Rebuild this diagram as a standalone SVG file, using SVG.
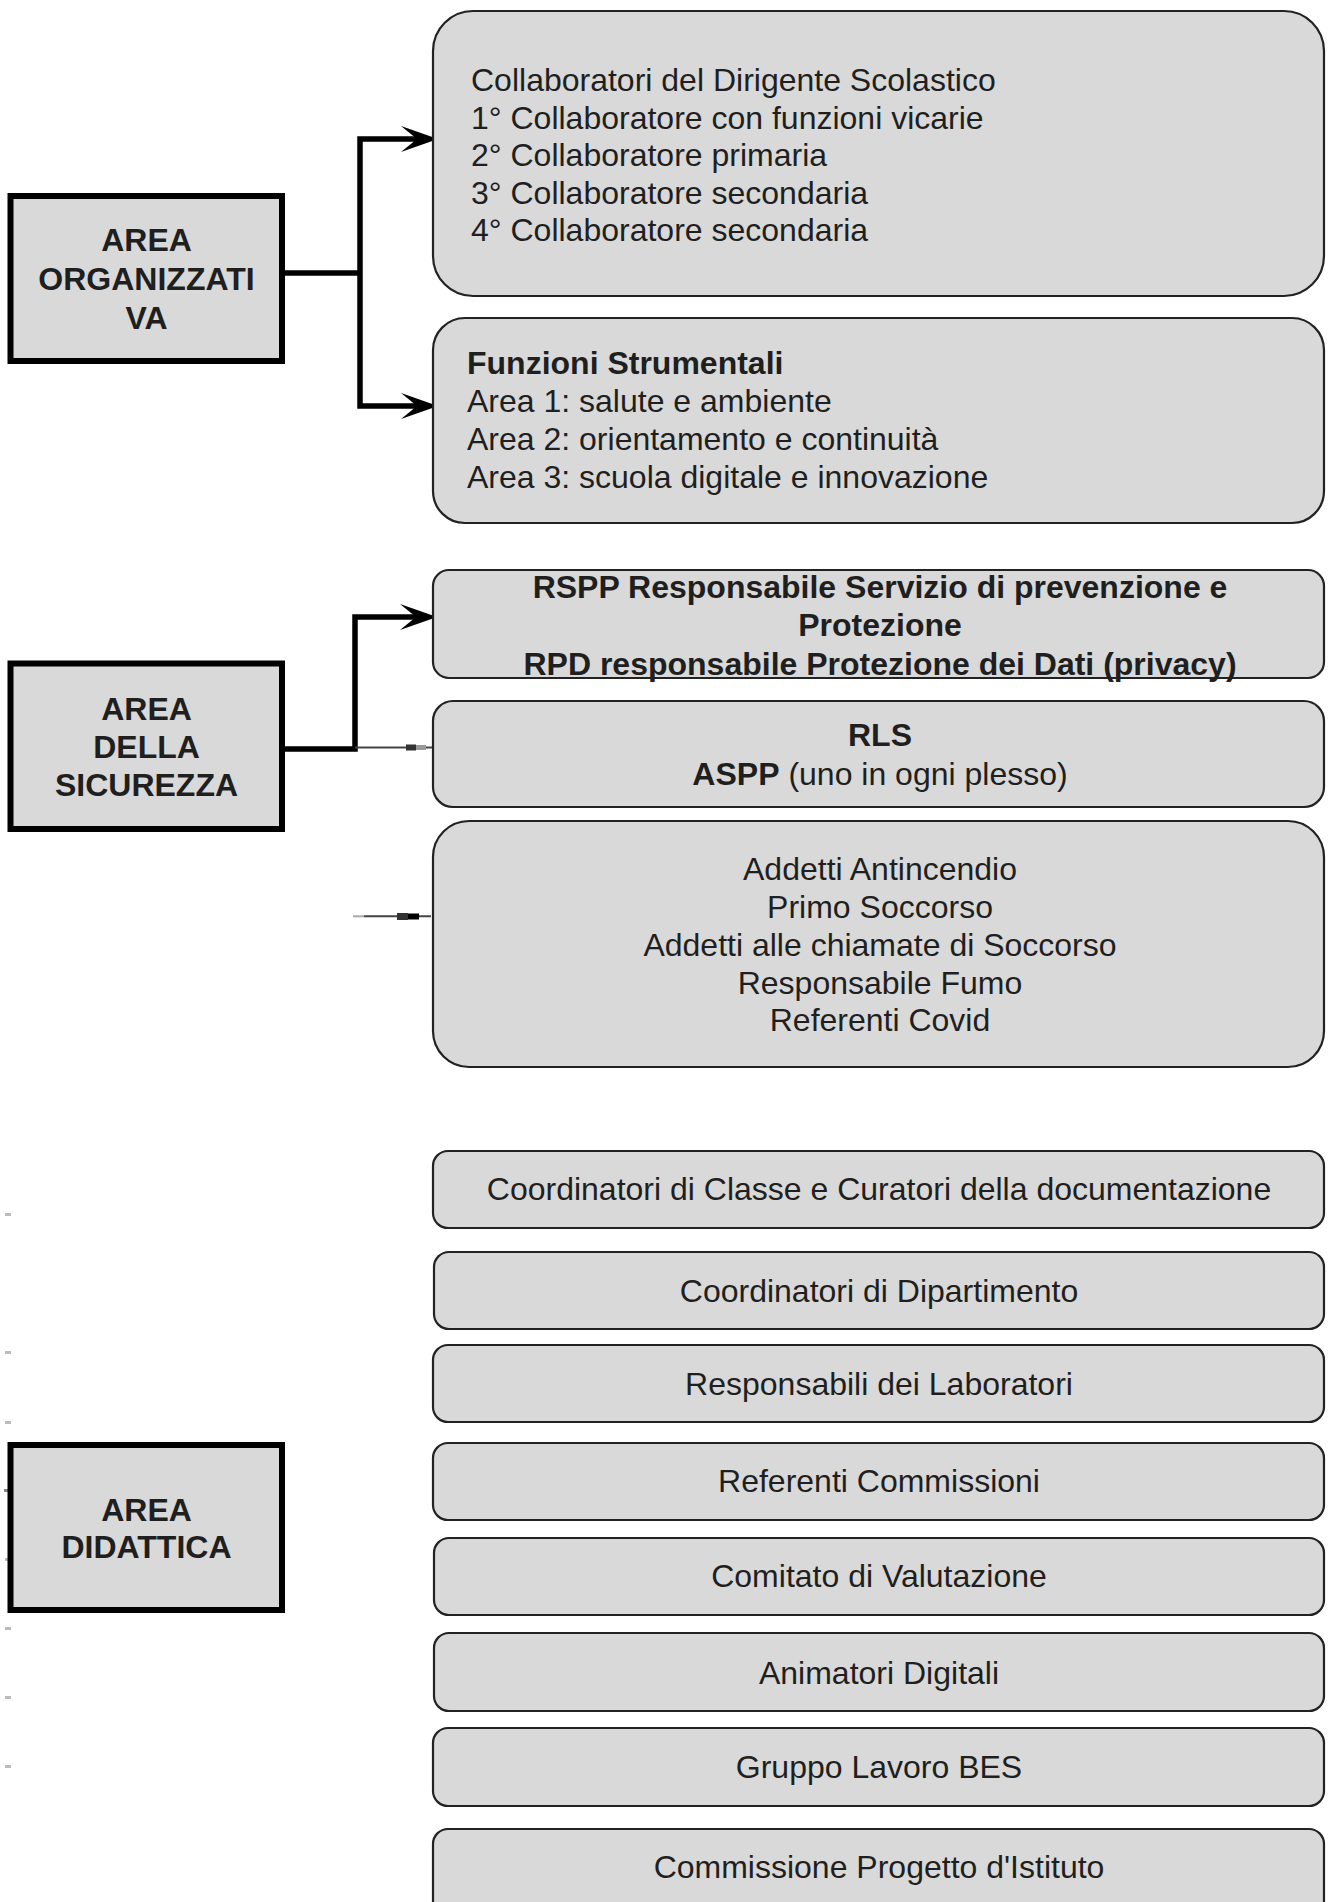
<svg xmlns="http://www.w3.org/2000/svg" width="1330" height="1902" viewBox="0 0 1330 1902">
<style>
.bg{fill:#ffffff}
.area{fill:#d9d9d9;stroke:#000;stroke-width:6}
.node{fill:#d9d9d9;stroke:#222;stroke-width:2.2}
.t{font-family:"Liberation Sans",Arial,sans-serif;font-size:32px;fill:#1f1f1f}
.b{font-weight:bold}
.c{text-anchor:middle}
.thick{fill:none;stroke:#000;stroke-width:5.5;stroke-linejoin:miter}
.thin{fill:none;stroke:#444;stroke-width:2}
.dot{fill:#bbbbbb}
</style>
<defs>
<marker id="arr" markerUnits="userSpaceOnUse" viewBox="0 0 37 26" refX="16" refY="13" markerWidth="37" markerHeight="26" orient="auto">
<path d="M0,0 L37,13 L0,26 L16,13 Z" fill="#000"/>
</marker>
</defs>
<rect class="bg" x="0" y="0" width="1330" height="1902"/>

<g id="connectors">
<path class="thick" d="M285,273 H360"/>
<path class="thick" d="M360,273 V139 H417" marker-end="url(#arr)"/>
<path class="thick" d="M360,273 V406 H417" marker-end="url(#arr)"/>
<path class="thick" d="M285,749 H355 V617 H416" marker-end="url(#arr)"/>
<path class="thin" d="M355,747.5 H433"/>
<rect x="406" y="744.5" width="10" height="6" fill="#333"/>
<rect x="416" y="745" width="10" height="5" fill="#999"/>
<path class="thin" d="M364,916.3 H431"/>
<rect x="353" y="915.3" width="11" height="2" fill="#aaa"/>
<rect x="397" y="913" width="11" height="7" fill="#333"/>
<rect x="408" y="913.5" width="11" height="6" fill="#000"/>
</g>

<g id="area-organizzativa">
<rect class="area" x="10.5" y="196" width="271.5" height="165"/>
<text class="t b c" x="146.5" y="251">AREA</text>
<text class="t b c" x="146.5" y="290">ORGANIZZATI</text>
<text class="t b c" x="146.5" y="329">VA</text>
</g>

<g id="collaboratori">
<rect class="node" x="433" y="11" width="891" height="285" rx="40" ry="40"/>
<text class="t" x="471" y="91">Collaboratori del Dirigente Scolastico</text>
<text class="t" x="471" y="128.5">1° Collaboratore con funzioni vicarie</text>
<text class="t" x="471" y="166">2° Collaboratore primaria</text>
<text class="t" x="471" y="203.5">3° Collaboratore secondaria</text>
<text class="t" x="471" y="241">4° Collaboratore secondaria</text>
</g>

<g id="funzioni-strumentali">
<rect class="node" x="433" y="318" width="891" height="205" rx="32" ry="32"/>
<text class="t b" x="467" y="374">Funzioni Strumentali</text>
<text class="t" x="467" y="412">Area 1: salute e ambiente</text>
<text class="t" x="467" y="450">Area 2: orientamento e continuità</text>
<text class="t" x="467" y="488">Area 3: scuola digitale e innovazione</text>
</g>

<g id="area-sicurezza">
<rect class="area" x="10.5" y="663.5" width="271.5" height="165.5"/>
<text class="t b c" x="146.5" y="720">AREA</text>
<text class="t b c" x="146.5" y="758">DELLA</text>
<text class="t b c" x="146.5" y="796">SICUREZZA</text>
</g>

<g id="rspp">
<rect class="node" x="433" y="570" width="891" height="108" rx="16" ry="16"/>
<text class="t b c" x="880" y="598">RSPP Responsabile Servizio di prevenzione e</text>
<text class="t b c" x="880" y="636">Protezione</text>
<text class="t b c" x="880" y="675">RPD responsabile Protezione dei Dati (privacy)</text>
</g>

<g id="rls">
<rect class="node" x="433" y="701" width="891" height="106" rx="20" ry="20"/>
<text class="t b c" x="880" y="746">RLS</text>
<text class="t c" x="880" y="784.5"><tspan class="b">ASPP</tspan> (uno in ogni plesso)</text>
</g>

<g id="addetti">
<rect class="node" x="433" y="821" width="891" height="246" rx="36" ry="36"/>
<text class="t c" x="880" y="880">Addetti Antincendio</text>
<text class="t c" x="880" y="918">Primo Soccorso</text>
<text class="t c" x="880" y="956">Addetti alle chiamate di Soccorso</text>
<text class="t c" x="880" y="993.5">Responsabile Fumo</text>
<text class="t c" x="880" y="1031">Referenti Covid</text>
</g>

<g id="dots">
<rect class="dot" x="5" y="1213" width="6" height="3"/>
<rect class="dot" x="5" y="1351" width="6" height="3"/>
<rect class="dot" x="5" y="1421" width="6" height="3"/>
<rect x="4" y="1489" width="7" height="3" fill="#888"/>
<rect class="dot" x="5" y="1558" width="6" height="3"/>
<rect class="dot" x="5" y="1627" width="6" height="3"/>
<rect class="dot" x="5" y="1696" width="6" height="3"/>
<rect class="dot" x="5" y="1765" width="6" height="3"/>
</g>

<g id="area-didattica">
<rect class="area" x="10.5" y="1445" width="271.5" height="165"/>
<text class="t b c" x="146.5" y="1521">AREA</text>
<text class="t b c" x="146.5" y="1558">DIDATTICA</text>
</g>

<g id="coordinatori-classe">
<rect class="node" x="433" y="1151" width="891" height="77" rx="15" ry="15"/>
<text class="t c" x="879" y="1200">Coordinatori di Classe e Curatori della documentazione</text>
</g>
<g id="coordinatori-dipartimento">
<rect class="node" x="434" y="1252" width="890" height="77" rx="15" ry="15"/>
<text class="t c" x="879" y="1301.5">Coordinatori di Dipartimento</text>
</g>
<g id="responsabili-laboratori">
<rect class="node" x="433" y="1345" width="891" height="77" rx="15" ry="15"/>
<text class="t c" x="879" y="1395">Responsabili dei Laboratori</text>
</g>
<g id="referenti-commissioni">
<rect class="node" x="433" y="1443" width="891" height="77" rx="15" ry="15"/>
<text class="t c" x="879" y="1491.5">Referenti Commissioni</text>
</g>
<g id="comitato-valutazione">
<rect class="node" x="434" y="1538" width="890" height="77" rx="15" ry="15"/>
<text class="t c" x="879" y="1586.5">Comitato di Valutazione</text>
</g>
<g id="animatori-digitali">
<rect class="node" x="434" y="1633" width="890" height="78" rx="15" ry="15"/>
<text class="t c" x="879" y="1684">Animatori Digitali</text>
</g>
<g id="gruppo-bes">
<rect class="node" x="433" y="1728" width="891" height="78" rx="15" ry="15"/>
<text class="t c" x="879" y="1778">Gruppo Lavoro BES</text>
</g>
<g id="commissione-progetto">
<rect class="node" x="433" y="1829" width="891" height="90" rx="15" ry="15"/>
<text class="t c" x="879" y="1878">Commissione Progetto d'Istituto</text>
</g>
</svg>
